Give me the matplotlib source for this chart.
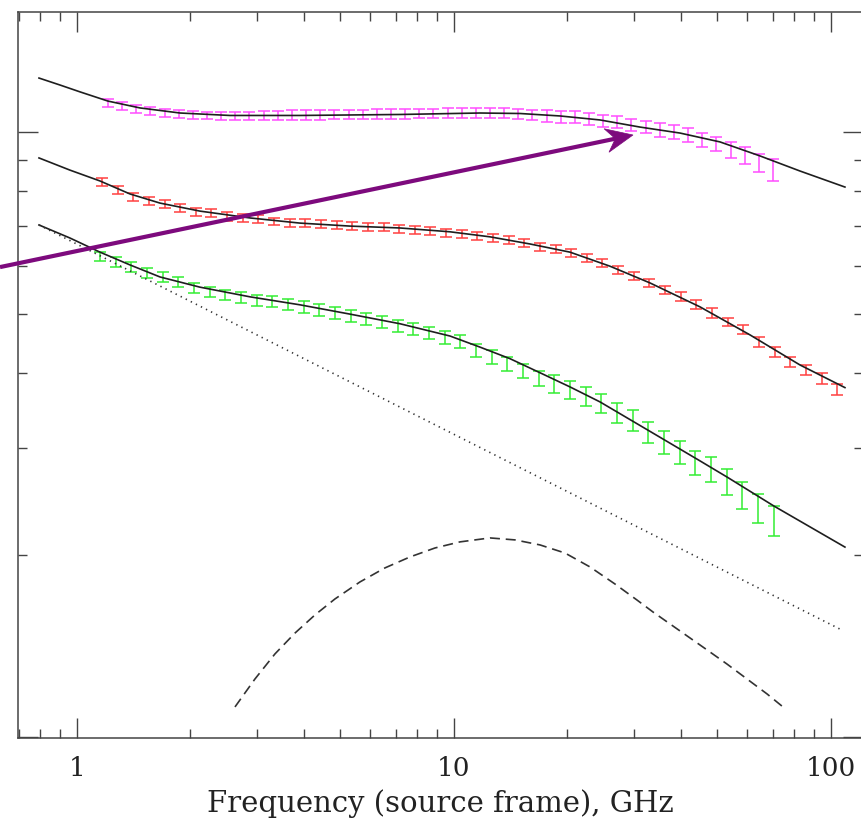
import numpy as np
import matplotlib
matplotlib.use("Agg")
import matplotlib.pyplot as plt
from matplotlib.ticker import FixedLocator, NullFormatter, FixedFormatter
from matplotlib.patches import Polygon
from matplotlib.transforms import IdentityTransform

# ---------------- data (GHz, flux in arbitrary log units) ----------------
mag_f = [1.208, 1.317, 1.436, 1.566, 1.708, 1.862, 2.029, 2.213, 2.412, 2.630,
         2.868, 3.126, 3.409, 3.717, 4.052, 4.418, 4.817, 5.252, 5.724, 6.242,
         6.805, 7.419, 8.089, 8.820, 9.614, 10.48, 11.43, 12.46, 13.58, 14.81,
         16.15, 17.60, 19.19, 20.93, 22.81, 24.88, 27.12, 29.57, 32.24, 35.15,
         38.32, 41.78, 45.56, 49.66, 54.14, 59.04, 64.37, 70.18]
mag_v = [1.117, 1.104, 1.091, 1.083, 1.075, 1.071, 1.067, 1.065, 1.063, 1.063,
         1.063, 1.065, 1.065, 1.067, 1.067, 1.067, 1.069, 1.069, 1.069, 1.071,
         1.071, 1.071, 1.073, 1.073, 1.075, 1.075, 1.075, 1.075, 1.075, 1.071,
         1.067, 1.063, 1.059, 1.059, 1.051, 1.043, 1.039, 1.027, 1.019, 1.008,
         1.000, 0.989, 0.970, 0.955, 0.934, 0.916, 0.889, 0.865]
mag_e = [0.016] * 11 + [0.020] * 20 + [0.024] * 8 + [0.026] * 5 + [0.029] * 2 + [0.031, 0.036]

red_f = [1.165, 1.282, 1.410, 1.551, 1.708, 1.878, 2.066, 2.274, 2.501, 2.752,
         3.028, 3.332, 3.667, 4.034, 4.438, 4.884, 5.373, 5.910, 6.504, 7.155,
         7.873, 8.664, 9.530, 10.49, 11.53, 12.69, 13.96, 15.37, 16.90, 18.60,
         20.46, 22.51, 24.77, 27.26, 29.99, 33.00, 36.30, 39.94, 43.95, 48.35,
         53.20, 58.54, 64.41, 70.87, 77.98, 85.80, 94.38, 103.8]
red_v = [0.827, 0.802, 0.781, 0.769, 0.760, 0.749, 0.738, 0.735, 0.726, 0.721,
         0.718, 0.712, 0.707, 0.707, 0.705, 0.702, 0.699, 0.697, 0.697, 0.691,
         0.689, 0.686, 0.681, 0.678, 0.673, 0.668, 0.663, 0.656, 0.645, 0.641,
         0.631, 0.619, 0.607, 0.591, 0.578, 0.563, 0.548, 0.534, 0.518, 0.502,
         0.485, 0.471, 0.450, 0.433, 0.417, 0.404, 0.391, 0.375]
red_e = [0.012] * 10 + [0.010] * 20 + [0.009] * 10 + [0.008] * 8

grn_f = [1.151, 1.266, 1.394, 1.533, 1.687, 1.857, 2.043, 2.248, 2.474, 2.723,
         2.996, 3.297, 3.628, 3.993, 4.394, 4.835, 5.321, 5.855, 6.444, 7.090,
         7.802, 8.587, 9.447, 10.40, 11.44, 12.59, 13.86, 15.25, 16.78, 18.46,
         20.31, 22.35, 24.60, 27.07, 29.79, 32.78, 36.08, 39.69, 43.68, 48.07,
         52.90, 58.21, 64.05, 70.49]
grn_v = [0.622, 0.610, 0.598, 0.585, 0.576, 0.565, 0.552, 0.544, 0.538, 0.532,
         0.527, 0.524, 0.518, 0.514, 0.508, 0.502, 0.497, 0.491, 0.485, 0.478,
         0.472, 0.465, 0.458, 0.450, 0.436, 0.425, 0.414, 0.403, 0.392, 0.383,
         0.375, 0.366, 0.356, 0.343, 0.334, 0.319, 0.307, 0.296, 0.284, 0.277,
         0.264, 0.251, 0.239, 0.228]
grn_e = [0.011] * 10 + [0.011] * 19 + [0.013] * 15

# model curves
mag_mf = [0.793, 0.901, 1.019, 1.208, 1.469, 1.876, 2.546, 3.904, 7.191, 11.72,
          14.97, 19.11, 24.39, 31.14, 39.78, 50.77, 64.82, 82.76, 108.9]
mag_mv = [1.228, 1.196, 1.165, 1.125, 1.096, 1.075, 1.065, 1.065, 1.069, 1.075,
          1.073, 1.063, 1.047, 1.019, 0.996, 0.963, 0.913, 0.862, 0.811]
red_mf = [0.793, 0.958, 1.151, 1.382, 1.660, 2.120, 2.877, 3.904, 5.298, 7.191,
          9.759, 12.46, 15.91, 20.31, 25.93, 33.11, 44.93, 60.97, 82.76, 108.9]
red_mv = [0.906, 0.865, 0.830, 0.790, 0.763, 0.740, 0.721, 0.707, 0.699, 0.694,
          0.684, 0.671, 0.653, 0.633, 0.600, 0.563, 0.514, 0.462, 0.412, 0.378]
grn_mf = [0.793, 0.958, 1.151, 1.382, 1.660, 2.120, 2.877, 3.904, 5.298, 7.191,
          9.759, 11.72, 14.08, 16.91, 20.31, 24.39, 33.11, 44.93, 52.97, 70.60, 108.9]
grn_mv = [0.702, 0.668, 0.633, 0.603, 0.576, 0.554, 0.534, 0.518, 0.500, 0.482,
          0.460, 0.441, 0.422, 0.400, 0.379, 0.358, 0.320, 0.286, 0.269, 0.2408, 0.206]

# power-law (dotted) and peaked (dashed) components
pl_f = [0.793, 106.9]
pl_v = [0.702, 0.1502]
pk_f = [2.625, 2.966, 3.352, 3.787, 4.278, 4.835, 5.632, 6.561, 7.643, 8.905,
        10.37, 12.46, 14.52, 16.91, 19.70, 22.95, 26.73, 30.58, 33.72, 39.05,
        46.89, 52.97, 59.86, 67.66, 74.60]
pk_v = [0.1121, 0.1247, 0.1372, 0.1485, 0.1591, 0.1691, 0.1804, 0.1903, 0.1984, 0.2053,
        0.2101, 0.2133, 0.2117, 0.2077, 0.2014, 0.1910, 0.1790, 0.1684, 0.1609, 0.1509,
        0.1393, 0.1320, 0.1247, 0.1178, 0.1121]

# arrow (tail, head)
arrow_tail = (0.625, 0.598)
arrow_head = (29.84, 0.9887)

xticks = [1, 10, 100]
xticklabels = ["1", "10", "100"]
xlabel = "Frequency (source frame), GHz"

# ---------------- plot ----------------
plt.rcParams["font.family"] = ["DejaVu Serif"]
fig = plt.figure(figsize=(8.61, 8.23), dpi=100)
ax = fig.add_axes([18 / 861, 85 / 823, 845 / 861, 726 / 823])
ax.set_xscale("log")
ax.set_yscale("log")
ax.set_xlim(0.6976, 121.6)
ax.set_ylim(0.0996, 1.579)

ebkw = dict(fmt="none", elinewidth=1.1, capsize=4.5, capthick=1.1, zorder=2)
ax.errorbar(mag_f, mag_v, yerr=mag_e, ecolor="#ff4dff", **ebkw)
ax.errorbar(red_f, red_v, yerr=red_e, ecolor="#ff4040", **ebkw)
ax.errorbar(grn_f, grn_v, yerr=grn_e, ecolor="#33ee33", **ebkw)

lkw = dict(color="#1e1e1e", lw=1.2, zorder=3)
ax.plot(mag_mf, mag_mv, **lkw)
ax.plot(red_mf, red_mv, **lkw)
ax.plot(grn_mf, grn_mv, **lkw)

ax.plot(pl_f, pl_v, color="#333333", lw=1.2, linestyle=(0, (0.8, 2.6)), zorder=3)
ax.plot(pk_f, pk_v, color="#333333", lw=1.2, linestyle=(0, (6, 3.5)), zorder=3)

# arrow: shaft + notched head, head geometry in pixels
fig.canvas.draw()
tr = ax.transData
p0 = np.array(tr.transform(arrow_tail))
p1 = np.array(tr.transform(arrow_head))
u = (p1 - p0) / np.hypot(*(p1 - p0))
n = np.array([-u[1], u[0]])
L, W, N = 27.0, 12.0, 9.0
notch = p1 - (L - N) * u
acol = "#7d0a7d"
ax.add_line(plt.Line2D([p0[0], notch[0] + 2 * u[0]], [p0[1], notch[1] + 2 * u[1]],
                       transform=IdentityTransform(), color=acol, lw=3,
                       solid_capstyle="butt", clip_on=False, zorder=5))
head = Polygon([p1, p1 - L * u + W * n, notch, p1 - L * u - W * n], closed=True,
               transform=IdentityTransform(), facecolor=acol, edgecolor=acol,
               lw=0.5, clip_on=False, zorder=5)
ax.add_patch(head)

ax.xaxis.set_major_locator(FixedLocator(xticks))
ax.xaxis.set_major_formatter(FixedFormatter(xticklabels))
ax.xaxis.set_minor_locator(FixedLocator([m * d for d in (0.1, 1, 10) for m in range(2, 10)]))
ax.xaxis.set_minor_formatter(NullFormatter())
ax.yaxis.set_major_locator(FixedLocator([0.1, 1.0]))
ax.yaxis.set_minor_locator(FixedLocator([m * 0.1 for m in range(2, 10)]))
ax.yaxis.set_major_formatter(NullFormatter())
ax.yaxis.set_minor_formatter(NullFormatter())

ax.tick_params(which="both", direction="in", top=True, right=True,
               color="#444444", width=1.0)
ax.tick_params(which="major", length=14.5, pad=13, labelsize=19, labelcolor="#222222")
ax.tick_params(which="minor", length=6.5)
for s in ax.spines.values():
    s.set_color("#444444")
    s.set_linewidth(1.1)

ax.set_xlabel(xlabel, fontsize=21, color="#222222", labelpad=6)

fig.savefig("out.png", dpi=100)
